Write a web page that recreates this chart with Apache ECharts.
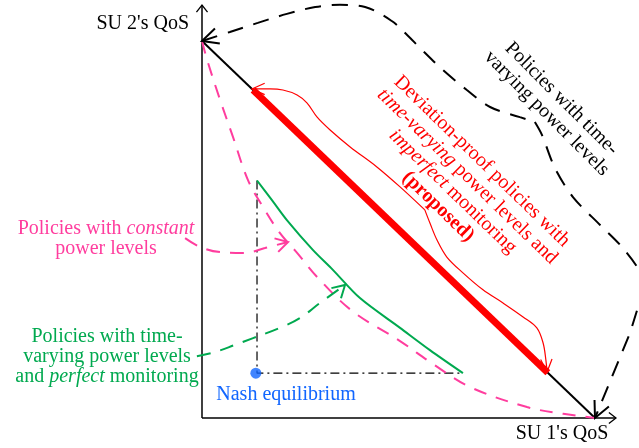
<!DOCTYPE html>
<html>
<head>
<meta charset="utf-8">
<script src="https://cdn.jsdelivr.net/npm/echarts@6/dist/echarts.min.js"></script>
<style>html,body{margin:0;padding:0;background:#fff}#chart{width:639px;height:448px}</style>
</head>
<body>
<div id="chart"></div>
<script>
// ---- data (QoS units: 1 = best achievable value of each SU) ----
const viewX = [-0.514, 1.112];
const viewY = [-0.0796, 1.1088];

const xAxisLine = [[0, 0], [1.0534, 0]];
const yAxisLine = [[0, 0], [0, 1.0955]];

const paretoBoundary = [[0, 1], [1, 0]];
const proposedSegment = [[0.13, 0.87], [0.88, 0.12]];

const constantPowerCurve = [
  [0, 1], [0.013, 0.950], [0.046, 0.844], [0.079, 0.745], [0.117, 0.631],
  [0.155, 0.560], [0.198, 0.491], [0.242, 0.438], [0.293, 0.374], [0.382, 0.284],
  [0.504, 0.204], [0.588, 0.143], [0.682, 0.082], [0.827, 0.029], [0.919, 0.011], [1, 0]
];

const perfectMonitoringCurve = [
  [0.14, 0.63], [0.178, 0.578], [0.216, 0.525], [0.282, 0.446], [0.333, 0.393],
  [0.402, 0.318], [0.504, 0.239], [0.580, 0.180], [0.664, 0.119]
];

const nashEquilibrium = [[0.137, 0.119]];
const nashGuides = [[0.14, 0.63], [0.14, 0.119], [0.664, 0.119]];

const timeVaryingBoundaryA = [
  [0, 1], [0.071, 1.024], [0.142, 1.048], [0.216, 1.072], [0.288, 1.090], [0.351, 1.096],
  [0.415, 1.090], [0.483, 1.053], [0.522, 1.016], [0.560, 0.976], [0.613, 0.923],
  [0.674, 0.870], [0.733, 0.825], [0.809, 0.798], [0.847, 0.785]
];
const timeVaryingBoundaryB = [
  [0.847, 0.785], [0.865, 0.751], [0.898, 0.663], [0.944, 0.586], [1.013, 0.512],
  [1.064, 0.459], [1.109, 0.398], [1.127, 0.353]
];
const timeVaryingBoundaryC = [[1.127, 0.353], [1.089, 0.225], [1, 0]];

const braceUpper = [
  [0.127, 0.873], [0.173, 0.873], [0.206, 0.870], [0.242, 0.857], [0.267, 0.836],
  [0.293, 0.798], [0.326, 0.764], [0.377, 0.719], [0.445, 0.666], [0.504, 0.613], [0.567, 0.552]
];
const braceLower = [
  [0.567, 0.552], [0.580, 0.517], [0.598, 0.472], [0.623, 0.427], [0.664, 0.385],
  [0.715, 0.340], [0.766, 0.305], [0.817, 0.268], [0.852, 0.239], [0.868, 0.199],
  [0.875, 0.154], [0.878, 0.122]
];

const constantPointer = [
  [-0.043, 0.477], [-0.005, 0.454], [0.046, 0.440], [0.109, 0.438], [0.160, 0.451], [0.219, 0.467]
];
const perfectPointer = [
  [-0.013, 0.164], [0.033, 0.175], [0.084, 0.194], [0.130, 0.212], [0.198, 0.239],
  [0.249, 0.265], [0.300, 0.305], [0.364, 0.353]
];

// arrowheads: [tipX, tipY, towardX, towardY]
const axisArrows = [[0, 1.0955, 0, 1.0], [1.0534, 0, 1.0, 0]];
const boundaryArrows = [[0, 1, 0.071, 1.024], [1, 0, 1.021, 0.048]];
const braceArrows = [[0.127, 0.873, 0.165, 0.873], [0.878, 0.122, 0.876, 0.16]];
const constantArrows = [[0.219, 0.467, 0.170, 0.453]];
const perfectArrows = [[0.364, 0.353, 0.320, 0.310]];

// ---- styling ----
const FONT = 'Liberation Serif';
const RED = '#ff0000', PINK = '#ff3d9e', GREEN = '#00a94f', BLUE = '#1166ff';

function lineSeries(data, color, width, type, smooth, z) {
  return {
    type: 'line', data: data, symbol: 'none', smooth: smooth, clip: true,
    animation: false, silent: true, z: z || 2,
    lineStyle: { color: color, width: width, type: type, cap: 'butt' }
  };
}
function arrowSeries(data, len, halfAngle, color, width) {
  return {
    type: 'custom', data: data, animation: false, silent: true, z: 5,
    renderItem: function (params, api) {
      const tip = api.coord([api.value(0), api.value(1)]);
      const from = api.coord([api.value(2), api.value(3)]);
      let dx = from[0] - tip[0], dy = from[1] - tip[1];
      const L = Math.hypot(dx, dy) || 1; dx /= L; dy /= L;
      const a = halfAngle * Math.PI / 180, c = Math.cos(a), s = Math.sin(a);
      const w1 = [tip[0] + len * (dx * c - dy * s), tip[1] + len * (dx * s + dy * c)];
      const w2 = [tip[0] + len * (dx * c + dy * s), tip[1] + len * (-dx * s + dy * c)];
      return { type: 'polyline', shape: { points: [w1, tip, w2] },
        style: { stroke: color, lineWidth: width, fill: 'none' } };
    }
  };
}

const chart = echarts.init(document.getElementById('chart'), null, { renderer: 'canvas' });
const axisCommon = { type: 'value', show: false, splitLine: { show: false } };
chart.setOption({
  animation: false,
  backgroundColor: '#fff',
  grid: { left: 0, right: 0, top: 0, bottom: 0 },
  xAxis: Object.assign({}, axisCommon, { min: viewX[0], max: viewX[1] }),
  yAxis: Object.assign({}, axisCommon, { min: viewY[0], max: viewY[1] }),
  series: [
    lineSeries(xAxisLine, '#000', 1.5, 'solid', false, 1),
    lineSeries(yAxisLine, '#000', 1.5, 'solid', false, 1),
    lineSeries(paretoBoundary, '#000', 2, 'solid', false, 2),
    lineSeries(proposedSegment, RED, 7, 'solid', false, 3),
    lineSeries(constantPowerCurve, PINK, 2, [13, 10], 0.35, 2),
    lineSeries(perfectMonitoringCurve, GREEN, 2, 'solid', 0.3, 2),
    lineSeries(nashGuides, '#000', 1.2, [9, 4, 2, 4], false, 1),
    lineSeries(timeVaryingBoundaryA, '#000', 2, [16, 11], 0.35, 2),
    lineSeries(timeVaryingBoundaryB, '#000', 2, [16, 11], 0.3, 2),
    lineSeries(timeVaryingBoundaryC, '#000', 2, [16, 11], false, 2),
    lineSeries(braceUpper, RED, 1.2, 'solid', 0.35, 3),
    lineSeries(braceLower, RED, 1.2, 'solid', 0.35, 3),
    lineSeries(constantPointer, PINK, 2, [14, 10], 0.4, 2),
    lineSeries(perfectPointer, GREEN, 2, [14, 10], 0.4, 2),
    {
      type: 'scatter', data: nashEquilibrium, symbol: 'circle', symbolSize: 11,
      itemStyle: { color: BLUE }, z: 6, animation: false, silent: true
    },
    arrowSeries(axisArrows, 9, 38, '#000', 1.3),
    arrowSeries(boundaryArrows, 18, 26, '#000', 2),
    arrowSeries(braceArrows, 14, 24, RED, 1.2),
    arrowSeries(constantArrows, 14, 30, PINK, 2),
    arrowSeries(perfectArrows, 14, 30, GREEN, 2)
  ],
  graphic: [
    { type: 'text', x: 189, y: 24, z: 100, style: { text: "SU 2's QoS", font: '20px ' + FONT, fill: '#000', align: 'right', verticalAlign: 'middle' } },
    { type: 'text', x: 562, y: 434, z: 100, style: { text: "SU 1's QoS", font: '20px ' + FONT, fill: '#000', align: 'center', verticalAlign: 'middle' } },
    { type: 'text', x: 286, y: 395, z: 100, style: { text: 'Nash equilibrium', font: '20px ' + FONT, fill: BLUE, align: 'center', verticalAlign: 'middle' } },
    { type: 'text', x: 106, y: 239, z: 100, style: {
        text: '{n|Policies with }{i|constant}\n{n|power levels}', align: 'center', verticalAlign: 'middle',
        rich: { n: { font: '20px ' + FONT, fill: PINK, lineHeight: 20 }, i: { font: 'italic 20px ' + FONT, fill: PINK, lineHeight: 20 } } } },
    { type: 'text', x: 107, y: 357, z: 100, style: {
        text: '{n|Policies with time-}\n{n|varying power levels}\n{n|and }{i|perfect}{n| monitoring}', align: 'center', verticalAlign: 'middle',
        rich: { n: { font: '20px ' + FONT, fill: GREEN, lineHeight: 20 }, i: { font: 'italic 20px ' + FONT, fill: GREEN, lineHeight: 20 } } } },
    { type: 'text', x: 460, y: 184, rotation: -0.77, z: 100, style: {
        text: '{n|Deviation-proof policies with}\n{i|time-varying}{n| power levels and}\n{i|imperfect}{n| monitoring}\n{b|(proposed)}', align: 'center', verticalAlign: 'middle',
        rich: { n: { font: '20px ' + FONT, fill: RED, lineHeight: 21 }, i: { font: 'italic 20px ' + FONT, fill: RED, lineHeight: 21 }, b: { font: 'bold 20px ' + FONT, fill: RED, lineHeight: 21 } } } },
    { type: 'text', x: 554, y: 106, rotation: -0.785, z: 100, style: {
        text: '{n|Policies with time-}\n{n|varying power levels}', align: 'center', verticalAlign: 'middle',
        rich: { n: { font: '20px ' + FONT, fill: '#000', lineHeight: 21 } } } }
  ]
});
</script>
</body>
</html>
